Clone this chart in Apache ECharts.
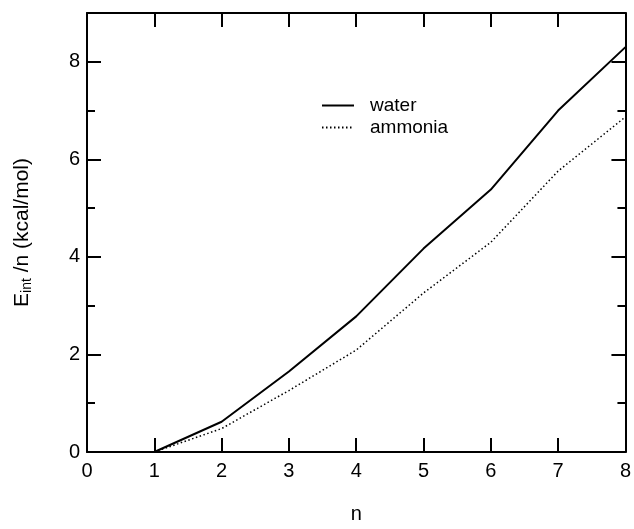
<!DOCTYPE html>
<html><head><meta charset="utf-8">
<script src="https://cdn.jsdelivr.net/npm/echarts@6/dist/echarts.min.js"></script>
<style>html,body{margin:0;padding:0;background:#fff}#c{width:634px;height:529px}</style>
</head><body><div id="c"></div>
<script>
const nValues = [1, 2, 3, 4, 5, 6, 7, 8];
const water = [0, 0.62, 1.65, 2.78, 4.17, 5.38, 7.0, 8.3];
const ammonia = [0, 0.48, 1.26, 2.09, 3.26, 4.3, 5.76, 6.87];
const xTicks = [0, 1, 2, 3, 4, 5, 6, 7, 8];
const yTicks = [0, 2, 4, 6, 8];

const font = 'Liberation Sans, Arial, Helvetica, sans-serif';
const chart = echarts.init(document.getElementById('c'), null, {renderer: 'canvas'});
const lineSt = {color: '#000', width: 2};
const axisCommon = {
  axisLine: {show: true, onZero: false, lineStyle: lineSt},
  splitLine: {show: false}
};
chart.setOption({
  animation: false,
  backgroundColor: '#fff',
  grid: {left: 87, right: 6, top: 13, bottom: 68, containLabel: false},
  legend: {
    orient: 'vertical', left: 316, top: 91,
    itemWidth: 32, itemHeight: 14, itemGap: 3,
    itemStyle: {opacity: 0},
    textStyle: {fontFamily: font, fontSize: 19, color: '#000', padding: [0, 0, 0, 11]},
    data: ['water', 'ammonia']
  },
  xAxis: [{
    type: 'value', min: 0, max: 8, interval: 1, position: 'bottom',
    ...axisCommon,
    axisTick: {show: true, inside: true, length: 14, lineStyle: lineSt},
    axisLabel: {show: true, margin: 9, fontFamily: font, fontSize: 20, color: '#000',
      formatter: v => xTicks.includes(v) ? String(v) : ''},
    name: 'n', nameLocation: 'middle', nameGap: 52,
    nameTextStyle: {fontFamily: font, fontSize: 20, color: '#000'}
  }, {
    type: 'value', min: 0, max: 8, interval: 1, position: 'top',
    ...axisCommon,
    axisTick: {show: true, inside: true, length: 14, lineStyle: lineSt},
    axisLabel: {show: false}
  }],
  yAxis: [{
    type: 'value', min: 0, max: 9, interval: 2, position: 'left',
    ...axisCommon,
    axisTick: {show: true, inside: true, length: 14, lineStyle: lineSt},
    minorTick: {show: true, splitNumber: 2, length: 8, lineStyle: lineSt},
    axisLabel: {show: true, margin: 7, fontFamily: font, fontSize: 20, color: '#000',
      formatter: v => yTicks.includes(v) ? String(v) : ''},
    name: 'E{sub|int} /n (kcal/mol)', nameLocation: 'middle', nameGap: 53, nameRotate: 90,
    nameTextStyle: {fontFamily: font, fontSize: 21, color: '#000',
      rich: {sub: {fontFamily: font, fontSize: 14, verticalAlign: 'bottom', padding: [10, 0, 0, 0], color: '#000'}}}
  }, {
    type: 'value', min: 0, max: 9, interval: 2, position: 'right',
    ...axisCommon,
    axisTick: {show: true, inside: true, length: 14, lineStyle: lineSt},
    minorTick: {show: true, splitNumber: 2, length: 8, lineStyle: lineSt},
    axisLabel: {show: false}
  }],
  series: [{
    name: 'water', type: 'line', xAxisIndex: 0, yAxisIndex: 0,
    data: nValues.map((n, i) => [n, water[i]]),
    showSymbol: false, symbol: 'none',
    lineStyle: {color: '#000', width: 2, type: 'solid'},
    itemStyle: {color: '#000'}
  }, {
    name: 'ammonia', type: 'line', xAxisIndex: 0, yAxisIndex: 0,
    data: nValues.map((n, i) => [n, ammonia[i]]),
    showSymbol: false, symbol: 'none',
    lineStyle: {color: '#000', width: 1.5, type: [1.5, 2.5]},
    itemStyle: {color: '#000'}
  }]
});
</script>
</body></html>
